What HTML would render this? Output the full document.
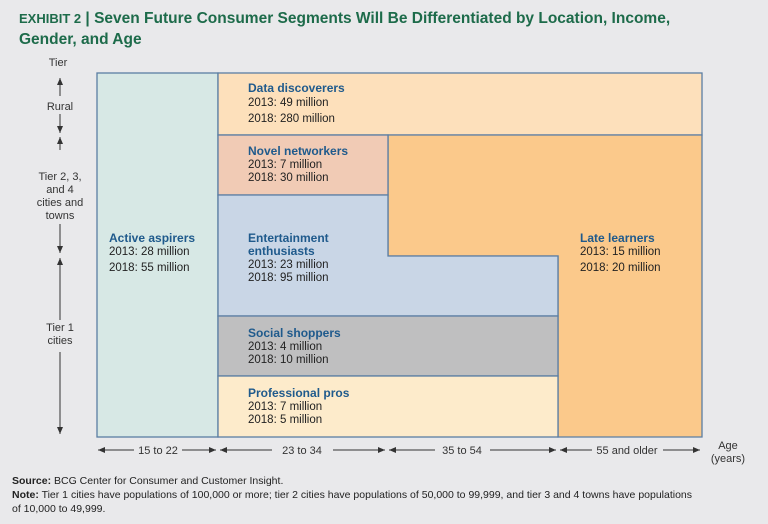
<!DOCTYPE html>
<html><head><meta charset="utf-8"><style>
body{margin:0;background:#e9e9eb;}
svg{display:block;font-family:"Liberation Sans",sans-serif;}
.h{fill:#1f5a8c;font-weight:bold;font-size:12px}
.t{fill:#222;font-size:11.5px}
.ax{fill:#333;font-size:11px}
</style></head><body>
<svg width="768" height="524">
<defs><marker id="ar" markerWidth="8" markerHeight="8" refX="7" refY="4" orient="auto"><path d="M0,1 L7,4 L0,7 Z" fill="#333"/></marker></defs>
<rect width="768" height="524" fill="#e9e9eb"/>
<text x="19" y="23" fill="#1d6b4a" font-weight="bold" font-size="15.5"><tspan font-size="13">EXHIBIT 2</tspan> | Seven Future Consumer Segments Will Be Differentiated by Location, Income,</text>
<text x="19" y="44" fill="#1d6b4a" font-weight="bold" font-size="15.5">Gender, and Age</text>
<text x="58" y="66" text-anchor="middle" class="ax" font-size="10">Tier</text>
<g stroke="#5b7ea3" stroke-width="1.3">
<rect x="97" y="73" width="121" height="364" fill="#d7e8e5"/>
<rect x="218" y="73" width="484" height="62" fill="#fde0bb"/>
<path d="M388,135 H702 V437 H558 V256 H388 Z" fill="#fbc98b"/>
<rect x="218" y="135" width="170" height="60" fill="#f1cbb5"/>
<path d="M218,195 H388 V256 H558 V316 H218 Z" fill="#c9d6e6"/>
<rect x="218" y="316" width="340" height="60" fill="#bfbfc0"/>
<rect x="218" y="376" width="340" height="61" fill="#fdebcb"/>
</g>
<text x="248" y="92" class="h">Data discoverers</text><text x="248" y="106" class="t">2013: 49 million</text><text x="248" y="122" class="t">2018: 280 million</text>
<text x="248" y="155" class="h">Novel networkers</text><text x="248" y="168" class="t">2013: 7 million</text><text x="248" y="181" class="t">2018: 30 million</text>
<text x="109" y="242" class="h">Active aspirers</text><text x="109" y="255" class="t">2013: 28 million</text><text x="109" y="271" class="t">2018: 55 million</text>
<text x="248" y="242" class="h">Entertainment</text><text x="248" y="255" class="h">enthusiasts</text><text x="248" y="268" class="t">2013: 23 million</text><text x="248" y="281" class="t">2018: 95 million</text>
<text x="580" y="242" class="h">Late learners</text><text x="580" y="255" class="t">2013: 15 million</text><text x="580" y="271" class="t">2018: 20 million</text>
<text x="248" y="337" class="h">Social shoppers</text><text x="248" y="350" class="t">2013: 4 million</text><text x="248" y="363" class="t">2018: 10 million</text>
<text x="248" y="397" class="h">Professional pros</text><text x="248" y="410" class="t">2013: 7 million</text><text x="248" y="423" class="t">2018: 5 million</text>
<g stroke="#333" stroke-width="1" marker-end="url(#ar)">
<line x1="60" y1="96" x2="60" y2="78"/><line x1="60" y1="114" x2="60" y2="133"/>
<line x1="60" y1="150" x2="60" y2="137"/><line x1="60" y1="224" x2="60" y2="253"/>
<line x1="60" y1="320" x2="60" y2="258"/><line x1="60" y1="352" x2="60" y2="434"/>
</g>
<g class="ax" text-anchor="middle">
<text x="60" y="110">Rural</text>
<text x="60" y="180">Tier 2, 3,</text><text x="60" y="193">and 4</text><text x="60" y="206">cities and</text><text x="60" y="219">towns</text>
<text x="60" y="331">Tier 1</text><text x="60" y="344">cities</text>
</g>
<g stroke="#333" stroke-width="1" marker-end="url(#ar)">
<line x1="134" y1="450" x2="98" y2="450"/><line x1="182" y1="450" x2="216" y2="450"/>
<line x1="272" y1="450" x2="220" y2="450"/><line x1="333" y1="450" x2="385" y2="450"/>
<line x1="435" y1="450" x2="389" y2="450"/><line x1="490" y1="450" x2="556" y2="450"/>
<line x1="592" y1="450" x2="560" y2="450"/><line x1="663" y1="450" x2="700" y2="450"/>
</g>
<g class="ax" text-anchor="middle" font-size="12">
<text x="158" y="454">15 to 22</text><text x="302" y="454">23 to 34</text><text x="462" y="454">35 to 54</text><text x="627" y="454">55 and older</text>
</g>
<text x="728" y="449" class="ax" text-anchor="middle" font-size="10">Age</text>
<text x="728" y="462" class="ax" text-anchor="middle" font-size="10">(years)</text>
<text x="12" y="484" font-size="10.5" fill="#222"><tspan font-weight="bold">Source:</tspan> BCG Center for Consumer and Customer Insight.</text>
<text x="12" y="498" font-size="10.5" fill="#222"><tspan font-weight="bold">Note:</tspan> Tier 1 cities have populations of 100,000 or more; tier 2 cities have populations of 50,000 to 99,999, and tier 3 and 4 towns have populations</text>
<text x="12" y="512" font-size="10.5" fill="#222">of 10,000 to 49,999.</text>
</svg>
</body></html>
